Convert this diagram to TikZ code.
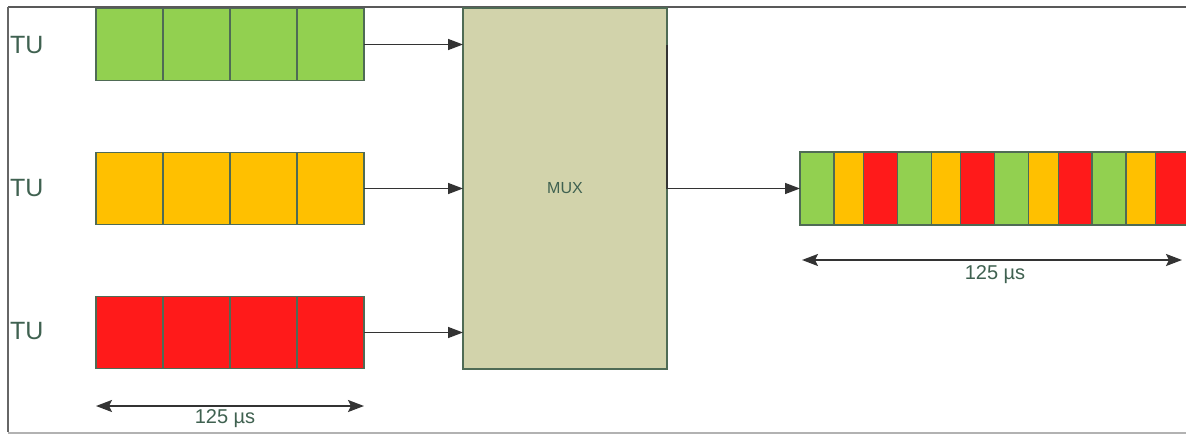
\documentclass[tikz,border=0pt]{standalone}
\usepackage{fontspec}
\setmainfont{Liberation Sans}
\usetikzlibrary{arrows.meta}
\definecolor{cgreen}{HTML}{92D050}
\definecolor{corange}{HTML}{FFC000}
\definecolor{cred}{HTML}{FF1A1A}
\definecolor{cmux}{HTML}{D2D3AB}
\definecolor{cedge}{HTML}{4F6B55}
\definecolor{ctext}{HTML}{3F6150}
\tikzset{
  cell/.style={draw=cedge, line width=1.2pt, minimum height=72pt, inner sep=0pt, outer sep=0pt, anchor=west},
  conn/.style={draw=black!80, line width=1.4pt, -{Triangle[length=15pt,width=11pt]}},
  dim/.style={draw=black!80, line width=2pt, {Stealth[length=16pt,width=12pt,inset=3pt]}-{Stealth[length=16pt,width=12pt,inset=3pt]}},
  tulabel/.style={font=\fontsize{25}{25}\selectfont, text=ctext, inner sep=0pt, anchor=west},
  dimlabel/.style={font=\fontsize{20}{20}\selectfont, text=ctext, inner sep=0pt}
}
\begin{document}
\begin{tikzpicture}[x=1pt,y=-1pt]
\useasboundingbox (0,0) rectangle (1186,434);
\clip (0,0) rectangle (1186,434);
\fill[white] (0,0) rectangle (1186,434);
% frame
\draw[draw=black!65, line width=1.5pt] (8,7) -- (1186,7);
\draw[draw=black!60, line width=1.5pt] (8,7) -- (8,432);
\draw[draw=black!30, line width=2pt] (8,432.5) -- (1186,432.5);
% TU labels
\node[tulabel] (tu1) at (10,45) {TU};
\node[tulabel] (tu2) at (10,188) {TU};
\node[tulabel] (tu3) at (10,331) {TU};
% input cells
\foreach \i in {1,...,4} {
  \node[cell, fill=cgreen, minimum width=67pt] (g\i) at ({96+67*(\i-1)},44.5) {};
  \node[cell, fill=corange, minimum width=67pt] (y\i) at ({96+67*(\i-1)},188.5) {};
  \node[cell, fill=cred, minimum width=67pt] (r\i) at ({96+67*(\i-1)},332.5) {};
}
% MUX
\node[draw=cedge, line width=1.4pt, fill=cmux, minimum width=204pt, minimum height=361pt, inner sep=0pt, outer sep=0pt,
      font=\fontsize{16}{16}\selectfont, text=ctext] (mux) at (565,188.5) {MUX};
% input connectors
\draw[conn] (g4.east) -- (g4.east -| mux.west);
\draw[conn] (y4.east) -- (y4.east -| mux.west);
\draw[conn] (r4.east) -- (r4.east -| mux.west);
% output strip
\foreach \k/\c/\w/\x in {1/cgreen/34/800, 2/corange/29.5/834, 3/cred/33.8/863.5,
                          4/cgreen/34/897.3, 5/corange/29.5/931.3, 6/cred/33.8/960.8,
                          7/cgreen/34/994.6, 8/corange/29.5/1028.6, 9/cred/33.8/1058.1,
                          10/cgreen/34/1091.9, 11/corange/29.5/1125.9, 12/cred/33.8/1155.4} {
  \node[cell, fill=\c, minimum width=\w pt, minimum height=73pt] (o\k) at (\x,188.5) {};
}
% output connector
\coordinate (mo) at (667,45);
\draw[conn] (mo) |- (o1.west);
% dimension lines
\coordinate (dl1) at (96,406);
\coordinate (dl2) at (364,406);
\draw[dim] (dl1) -- (dl2);
\node[dimlabel] (dlab1) at (225,419) {125 µs};
\coordinate (dr1) at (802,260);
\coordinate (dr2) at (1182,260);
\draw[dim] (dr1) -- (dr2);
\node[dimlabel] (dlab2) at (995,275) {125 µs};
\end{tikzpicture}
\end{document}
